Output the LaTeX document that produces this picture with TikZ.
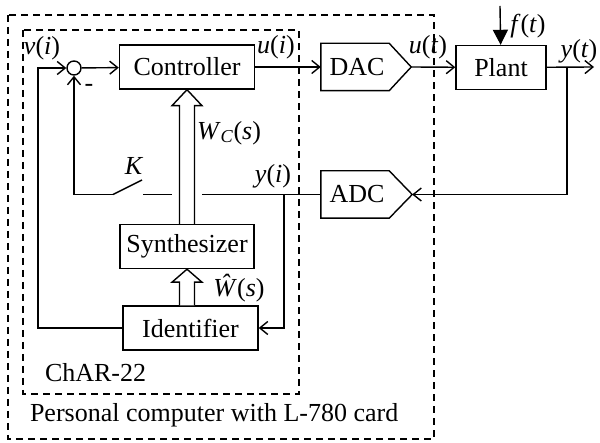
\documentclass[tikz,border=0pt]{standalone}
\usepackage{fontspec}
\setmainfont{Liberation Serif}
\usetikzlibrary{arrows.meta}

\begin{document}
\begin{tikzpicture}[x=1pt,y=-1pt,line width=1.4pt,
  font=\fontsize{26}{30}\selectfont,
  blk/.style={draw,rectangle,inner sep=0pt,minimum height=44pt},
  conv/.style={rectangle,inner sep=0pt,minimum width=67pt,minimum height=46pt},
  arr/.style={-{Straight Barb[length=8pt,width=13pt]}},
  frame/.style={dash pattern=on 7pt off 5pt,line width=1.2pt}]
\useasboundingbox (0,0) rectangle (600,443);
% frames
\draw[frame] (8,15) rectangle (434,439);
\draw[frame] (23,30) rectangle (299,394);
\node[anchor=west] (pc) at (26,415) {Personal computer with L-780 card};
\node[anchor=west] (char) at (41,373) {ChAR-22};
% blocks
\node (sum) at (74,68) [circle,draw,minimum size=14pt,inner sep=0pt] {};
\node (ctrl) at (187,67) [blk,minimum width=135pt] {Controller};
\node (dac) at (355,67) [conv] {\hspace*{4pt}DAC};
\node (plant) at (501,67.5) [blk,minimum width=90pt] {Plant};
\node (adc) at (355,194.5) [conv] {\hspace*{4pt}ADC};
\node (synth) at (187,246.5) [blk,minimum width=134pt] {Synthesizer};
\node (ident) at (190.5,328) [blk,minimum width=135pt] {Identifier};
% converter outlines
\coordinate (dactip) at ([xshift=22pt]dac.east);
\coordinate (adctip) at ([xshift=23pt]adc.east);
\draw (dac.north west) -- (dac.north east) -- (dactip) -- (dac.south east) -- (dac.south west) -- cycle;
\draw (adc.north west) -- (adc.north east) -- (adctip) -- (adc.south east) -- (adc.south west) -- cycle;
% points
\coordinate (ftop) at (500,6);
\coordinate (yout) at (594,67);
\coordinate (ybr) at (567,67);
\coordinate (yibr) at (284,194.5);
\coordinate (lc) at (38,68);
\coordinate (swa) at (113,194.5);
\coordinate (swk) at (142,180);
\coordinate (swb) at (143,194.5);
% signals
\draw[arr] (sum) -- (ctrl);
\draw[arr] (ctrl) -- (dac);
\draw[arr] (dactip) -- (plant);
\draw[-{Triangle[length=15pt,width=15pt]}] (ftop) -- (plant);
\draw[arr] (plant) -- (yout);
\draw[arr] (ybr) |- (adctip);
\draw (adc.west) -- (swb);
\draw[arr] (yibr) |- (ident);
\draw[arr] (ident.west) -| (lc) -- (sum);
\draw[arr] (swa) -| (sum);
\draw (swa) -- (swk);
% wide arrows
\draw[white,line width=30pt,shorten <=2pt,shorten >=17pt] (synth.north) -- (ctrl.south);
\draw[fill=white] ([xshift=-7.5pt]synth.north) -- ([xshift=-7.5pt,yshift=-16pt]ctrl.south)
  -- ([xshift=-15pt,yshift=-16pt]ctrl.south) -- (ctrl.south)
  -- ([xshift=15pt,yshift=-16pt]ctrl.south) -- ([xshift=7.5pt,yshift=-16pt]ctrl.south)
  -- ([xshift=7.5pt]synth.north);
\draw[fill=white] ([xshift=-7.5pt]synth.south |- ident.north) -- ([xshift=-7.5pt,yshift=-13pt]synth.south)
  -- ([xshift=-15pt,yshift=-13pt]synth.south) -- (synth.south)
  -- ([xshift=15pt,yshift=-13pt]synth.south) -- ([xshift=7.5pt,yshift=-13pt]synth.south)
  -- ([xshift=7.5pt]synth.south |- ident.north);
% labels
\node (lv) at (42,48) {\textit{v}(\textit{i})};
\node (lui) at (276,47) {\textit{u}(\textit{i})};
\node (lut) at (428,47) {\textit{u}(\textit{t})};
\node (lf) at (528,26) {\textit{f}(\textit{t})};
\node (lyt) at (579,51) {\textit{y}(\textit{t})};
\node (lk) at (134,166) {\textit{K}};
\node (lyi) at (273,176) {\textit{y}(\textit{i})};
\node (lwc) at (229,133) {\textit{W}\textsubscript{\textit{C}}(\textit{s})};
\node (lw) at (239,288) {\textit{\^W}(\textit{s})};
\node (lm) at (89,88) {-};
\end{tikzpicture}
\end{document}
